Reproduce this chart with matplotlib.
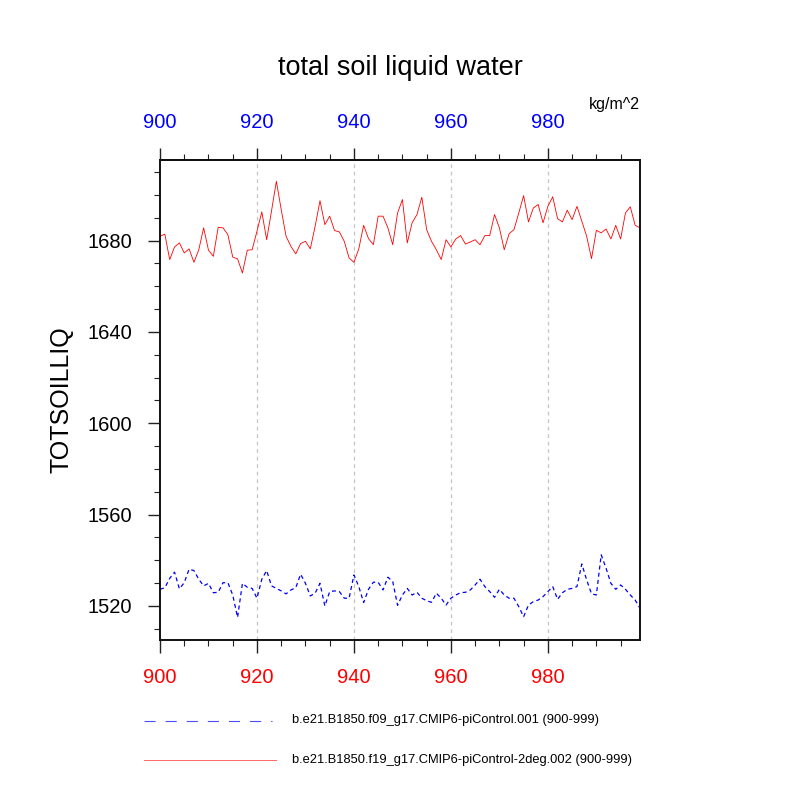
import numpy as np
import matplotlib
matplotlib.use("Agg")
import matplotlib.pyplot as plt
from matplotlib.lines import Line2D
from matplotlib.ticker import MultipleLocator

plt.rcParams['font.family'] = ['Liberation Sans', 'DejaVu Sans']

years = np.arange(900, 1000)

red_2deg = [
    1681.9, 1682.8, 1671.7, 1677.2, 1679.0, 1674.6, 1676.4, 1670.5, 1676.0, 1685.6,
    1675.8, 1673.1, 1685.8, 1685.6, 1682.6, 1672.8, 1672.0, 1665.8, 1675.8, 1676.0,
    1684.1, 1692.6, 1680.4, 1693.0, 1706.0, 1693.6, 1681.9, 1677.5, 1674.2, 1678.7,
    1679.7, 1676.4, 1686.3, 1697.5, 1687.0, 1690.7, 1684.4, 1683.8, 1679.7, 1672.4,
    1670.5, 1676.4, 1686.7, 1680.9, 1678.2, 1690.7, 1690.7, 1685.6, 1678.2, 1692.1,
    1698.0, 1679.0, 1687.8, 1691.4, 1699.0, 1684.8, 1679.7, 1676.0, 1671.7, 1680.4,
    1677.2, 1680.7, 1682.2, 1678.5, 1679.4, 1680.4, 1678.2, 1682.2, 1682.2, 1691.4,
    1685.6, 1676.0, 1683.0, 1684.8, 1692.1, 1699.7, 1688.2, 1694.3, 1695.8, 1687.8,
    1695.0, 1699.2, 1689.6, 1688.2, 1693.3, 1689.2, 1695.0, 1688.5, 1681.9, 1672.1,
    1684.5, 1683.4, 1685.1, 1680.7, 1686.7, 1680.7, 1692.1, 1694.8, 1686.7, 1685.6,
]

blue_1deg = [
    1527.3, 1528.0, 1532.1, 1534.8, 1527.5, 1530.2, 1536.1, 1535.5, 1531.7, 1528.8,
    1529.9, 1525.8, 1526.0, 1530.2, 1530.2, 1524.8, 1515.0, 1529.9, 1528.2, 1527.7,
    1523.4, 1531.7, 1535.5, 1528.8, 1527.7, 1526.6, 1525.3, 1527.0, 1528.0, 1533.9,
    1529.9, 1524.4, 1525.6, 1529.9, 1520.0, 1526.3, 1526.6, 1526.3, 1523.4, 1523.4,
    1533.6, 1528.5, 1521.5, 1527.3, 1530.4, 1530.4, 1527.0, 1532.6, 1530.7, 1520.3,
    1524.8, 1527.7, 1524.8, 1526.0, 1523.4, 1522.3, 1521.6, 1525.6, 1523.4, 1520.4,
    1523.4, 1524.8, 1525.8, 1526.0, 1527.0, 1529.2, 1531.7, 1528.5, 1526.3, 1523.8,
    1527.3, 1524.8, 1523.4, 1523.4, 1519.7, 1515.3, 1520.4, 1521.9, 1522.6, 1524.1,
    1526.3, 1528.5, 1522.9, 1525.8, 1527.3, 1527.7, 1528.5, 1538.4, 1531.4, 1525.3,
    1524.8, 1542.4, 1536.5, 1529.9, 1527.3, 1529.2, 1527.3, 1524.8, 1522.6, 1519.0,
]

x_ticks = [900, 920, 940, 960, 980]
y_ticks = [1520, 1560, 1600, 1640, 1680]
labels = [
    "b.e21.B1850.f09_g17.CMIP6-piControl.001 (900-999)",
    "b.e21.B1850.f19_g17.CMIP6-piControl-2deg.002 (900-999)",
]

fig = plt.figure(figsize=(8, 8), dpi=100)
ax = fig.add_axes([0.2, 0.2, 0.6, 0.6])

for xv in x_ticks[1:]:
    ax.axvline(xv, color='#c4c4c4', lw=0.9, dashes=(3, 3), zorder=0)

ax.plot(years, blue_1deg, color='blue', lw=0.9, dashes=(3.2, 2.6))
ax.plot(years, red_2deg, color='red', lw=0.6)

ax.set_xlim(900, 999)
ax.set_ylim(1505.1, 1715.3)

ax.set_xticks(x_ticks)
ax.set_yticks(y_ticks)
ax.xaxis.set_minor_locator(MultipleLocator(5))
ax.yaxis.set_minor_locator(MultipleLocator(10))

for s in ax.spines.values():
    s.set_linewidth(1.4)
    s.set_color('#111111')

ax.tick_params(axis='x', which='both', direction='out', bottom=True, top=False,
               labelbottom=True, labeltop=False, colors='#222222')
ax.tick_params(axis='y', which='both', direction='out', left=True, right=False,
               colors='#222222')
ax.tick_params(which='major', length=9, width=1.0, pad=11, labelsize=14.5)
ax.tick_params(which='minor', length=4.5, width=0.8)

sec = ax.secondary_xaxis('top')
sec.set_xticks(x_ticks)
sec.xaxis.set_minor_locator(MultipleLocator(5))
sec.tick_params(which='major', length=9, width=1.0, pad=11, labelsize=14.5,
                direction='out', colors='#222222')
sec.tick_params(which='minor', length=4.5, width=0.8, direction='out', colors='#222222')
sec.spines['top'].set_linewidth(1.4)
sec.spines['top'].set_color('#111111')
for lab in sec.get_xticklabels():
    lab.set_color('blue')
for lab in ax.get_xticklabels():
    lab.set_color('red')
for lab in ax.get_yticklabels():
    lab.set_color('black')

ax.set_ylabel("TOTSOILLIQ", fontsize=18, labelpad=10)

fig.text(0.5, 1 - 75 / 800, "total soil liquid water", ha='center', va='baseline',
         fontsize=19.5)
fig.text(0.8, 1 - 109 / 800, "kg/m^2", ha='right', va='baseline', fontsize=11.5)

# legend
leg_y = [1 - 720.5 / 800, 1 - 759.5 / 800]
fig.add_artist(Line2D([144 / 800, 272 / 800], [leg_y[0], leg_y[0]], color='blue',
                      lw=0.8, dashes=(10, 9), alpha=0.7))
fig.add_artist(Line2D([144 / 800, 276 / 800], [leg_y[1], leg_y[1]], color='red',
                      lw=0.7, alpha=0.6))
fig.text(292 / 800, leg_y[0], labels[0], ha='left', va='center', fontsize=9.3)
fig.text(292 / 800, leg_y[1], labels[1], ha='left', va='center', fontsize=9.3)

fig.savefig("out.png", dpi=100)
